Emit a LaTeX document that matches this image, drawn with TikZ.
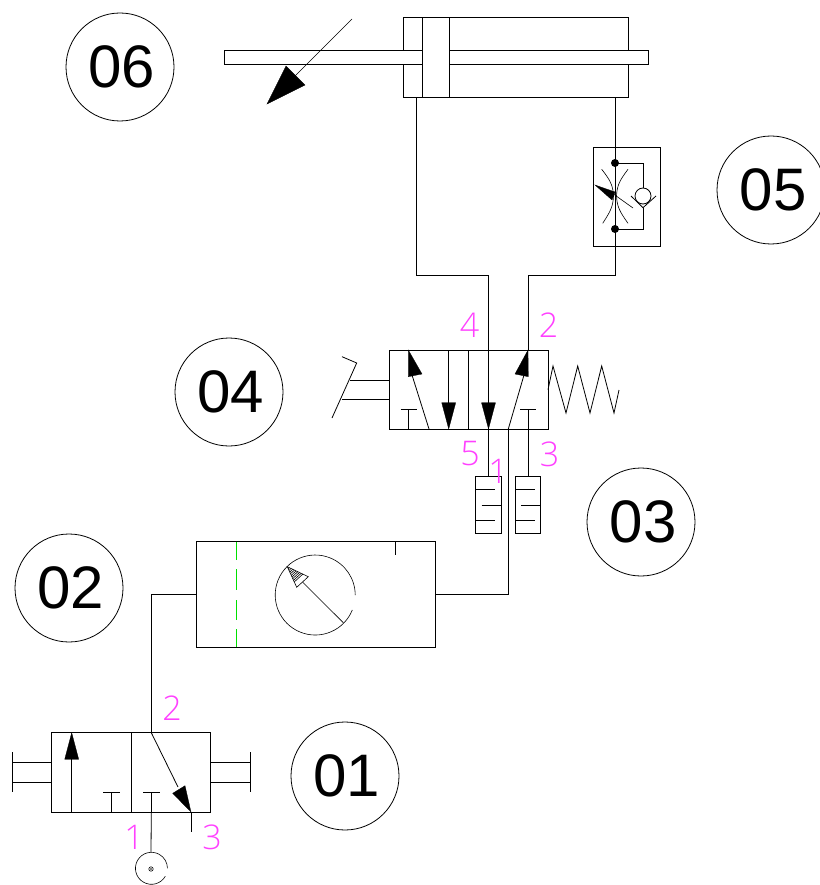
\documentclass[tikz,border=0pt]{standalone}
\usepackage{fontspec}
\setmainfont{Liberation Sans}
\newfontfamily\portfont{Open Sans Light}
\usetikzlibrary{calc}
\definecolor{portmag}{HTML}{FF40FF}
\definecolor{gaugegreen}{HTML}{00E000}
\tikzset{
  ln/.style={draw=black,line width=0.8pt},
  thin ln/.style={draw=black,line width=0.6pt},
  box/.style={ln,rectangle,inner sep=0pt,outer sep=0pt,fill=none},
  badge/.style={draw=black,line width=0.8pt,circle,minimum size=108pt,inner sep=0pt,font=\fontsize{60}{60}\selectfont},
  port/.style={text=portmag,inner sep=0pt,font=\portfont\fontsize{34}{34}\selectfont},
  head/.style={fill=black,draw=black,line width=0.3pt,line join=miter}
}
\begin{document}
\begin{tikzpicture}[x=1pt,y=-1pt]
\useasboundingbox (0,0) rectangle (819,885);
% badges
\node[badge] (n06) at (120,67) {\hspace*{4pt}06};
\node[badge] (n05) at (771,190) {\hspace*{4pt}05};
\node[badge] (n04) at (229,392) {\hspace*{4pt}04};
\node[badge] (n03) at (641,522) {\hspace*{4pt}03};
\node[badge] (n02) at (69,588) {\hspace*{4pt}02};
\node[badge] (n01) at (345,776) {\hspace*{4pt}01};
% cylinder
\node[box,minimum width=225pt,minimum height=80.5pt] (cyl) at (515.5,57.25) {};
\draw[ln,fill=white] (224,50.5) rectangle (648,64);
\draw[ln,fill=white] (422.5,17) rectangle (449,97.5);
\draw[ln] (403,50.5)--(422.5,50.5) (403,64)--(422.5,64);
\coordinate (cylA) at (416,97.5);
\coordinate (cylB) at (615,97.5);
\coordinate (adjS) at (352,19);
\coordinate (adjT) at (267,104);
\draw[thin ln] (adjS)--(295,76);
\draw[head] (adjT)--(286,66)--(305,85)--cycle;
% flow control
\node[box,minimum width=67.5pt,minimum height=99pt] (fc) at (627,196.5) {};
\coordinate (fcT) at (615,163);
\coordinate (fcB) at (615,229);
\fill (fcT) circle (4pt) (fcB) circle (4pt);
\draw[ln] (fcT) -- (643,163) -- (643,188);
\draw[ln] (643,196) circle (8pt);
\draw[ln] (631,196) -- (643,207.7) -- (656,196);
\draw[ln] (643,207.7) -- (643,229) -- (fcB);
\draw[thin ln] (601.7,169.3) .. controls (610,180) and (613,185) .. (613.5,196) .. controls (613,207) and (610,212) .. (602.7,223.3);
\draw[thin ln] (628,169.3) .. controls (620,180) and (617,185) .. (616.5,196) .. controls (617,207) and (620,212) .. (628,223.3);
\draw[thin ln] (633,208) -- (612,193);
\draw[head] (595,185) -- (615,192) -- (612,200) -- cycle;
% 5/2 valve
\node[box,minimum width=159pt,minimum height=79pt] (v4) at (468.5,389.5) {};
\draw[ln] (468.3,350) -- (468.3,429);
\coordinate (p4) at (488.5,350);
\coordinate (p2) at (528,350);
\coordinate (p5) at (488.5,429);
\coordinate (p1) at (508.3,429);
\coordinate (p3) at (528,429);
\draw[ln] (429,429) -- (412,375);
\draw[head] (408.3,350) -- (408.3,376.7) -- (422,374) -- cycle;
\draw[ln] (448.7,350) -- (448.7,405);
\draw[head] (448.7,429) -- (441.7,402.7) -- (455.7,402.7) -- cycle;
\draw[ln] (p4) -- (488.5,405);
\draw[head] (p5) -- (481.5,402.7) -- (495.5,402.7) -- cycle;
\draw[ln] (p1) -- (524,375);
\draw[head] (p2) -- (515,374) -- (528.3,376.7) -- cycle;
\draw[ln] (408.3,429) -- (408.3,409.3) (400.7,409.3) -- (417.3,409.3);
\draw[ln] (p3) -- (528,409.3) (520,409.3) -- (536,409.3);
\draw[ln] (389,380) -- (350,380) (389,399.5) -- (341.7,399.5);
\draw[ln] (332,418) -- (356.7,363) -- (342,356.7);
\draw[ln,line join=miter] (548,389.7) -- (553,366) -- (566,413) -- (577.7,366) -- (590,413) -- (601.7,366) -- (614,413) -- (619,390);
% silencers
\node[box,minimum width=26pt,minimum height=56.5pt] (s1) at (488.7,505) {};
\node[box,minimum width=25.7pt,minimum height=56.5pt] (s2) at (527.9,505) {};
\draw[ln] (475.7,489.7) -- (495,489.7) (481.7,505) -- (501.7,505) (475.7,520.5) -- (495,520.5);
\draw[ln] (515,489.7) -- (535,489.7) (521,505) -- (540.7,505) (515,520.5) -- (535,520.5);
\draw[ln] (p5) -- (488.5,476.7);
\draw[ln] (p3) -- (528,476.7);
% gauge unit
\node[box,minimum width=238.3pt,minimum height=105.6pt] (g) at (315.85,594.5) {};
\draw[gaugegreen,line width=0.9pt] (236.3,541.7) -- (236.3,560) (236.3,569.3) -- (236.3,590) (236.3,600) -- (236.3,620) (236.3,629.3) -- (236.3,647.3);
\draw[ln] (395,541.7) -- (395,555);
\coordinate (gL) at (196.7,594.7);
\coordinate (gR) at (435,594.7);
\draw[thin ln] (352.3,610) arc[start angle=-22,end angle=-360,radius=40pt];
\coordinate (nT) at (287.3,566.7);
\coordinate (nA) at (308.3,576.7);
\coordinate (nB) at (296.7,587.3);
\draw[thin ln] (343.3,622.7) -- ($(nA)!0.5!(nB)$);
\draw[thin ln] (nT) -- (nA) -- (nB) -- cycle;
\foreach \t in {0.1,0.18,...,0.75}
  \draw[black,line width=0.6pt] ($(nT)!\t!(nA)$) -- ($(nT)!\t!(nB)$);
% 3/2 valve
\node[box,minimum width=159pt,minimum height=79.3pt] (v1) at (131.2,772.35) {};
\draw[ln] (131.7,732.7) -- (131.7,812);
\draw[ln] (71.7,812) -- (71.7,755);
\draw[head] (71.7,732.7) -- (64.7,759.3) -- (78.7,759.3) -- cycle;
\draw[ln] (111.7,812) -- (111.7,792.3) (103.3,792.3) -- (120,792.3);
\coordinate (q2) at (151.3,732.7);
\coordinate (q1) at (151.3,812);
\coordinate (q3) at (191,812);
\draw[ln] (q2) -- (178,787);
\draw[head] (q3) -- (172.7,793.3) -- (185,785.7) -- cycle;
\draw[ln] (q3) -- (191,832);
\draw[ln] (143,792.3) -- (160,792.3) (151.3,792.3) -- (q1);
\draw[ln] (51.7,762.3) -- (12,762.3) (51.7,782.3) -- (12,782.3) (12,752.3) -- (12,792.3);
\draw[ln] (210.7,762.3) -- (250.7,762.3) (210.7,782.3) -- (250.7,782.3) (250.7,752.3) -- (250.7,792.3);
% air source
\coordinate (air) at (151,852.3);
\draw[thin ln] (165.3,876.3) arc[start angle=-30,end angle=-360,radius=16pt];
\draw[thin ln] (151,869) circle (2.2pt);
\fill (151,869) circle (0.8pt);
% pipes
\draw[ln] (cylA) -- (416,275) -- (488.5,275) -- (p4);
\draw[ln] (p4) -- (p5);
\draw[ln] (cylB) -- (fcT);
\draw[ln] (fcT) -- (fcB);
\draw[ln] (fcB) -- (615,275) -- (528,275) -- (p2);
\draw[ln] (p1) -- (508.3,594.7) -- (gR);
\draw[ln] (gL) -- (151.3,594.7) -- (q2);
\draw[ln] (q1) -- (air);
% port labels
\node[port] (l4) at (469.5,325) {4};
\node[port] (l2) at (548.5,325) {2};
\node[port] (l5) at (470,454) {5};
\node[port] (l1) at (498,471) {1};
\node[port] (l3) at (549.5,454) {3};
\node[port] (m2) at (172,708) {2};
\node[port] (m1) at (134,837) {1};
\node[port] (m3) at (212,837) {3};
\end{tikzpicture}
\end{document}
